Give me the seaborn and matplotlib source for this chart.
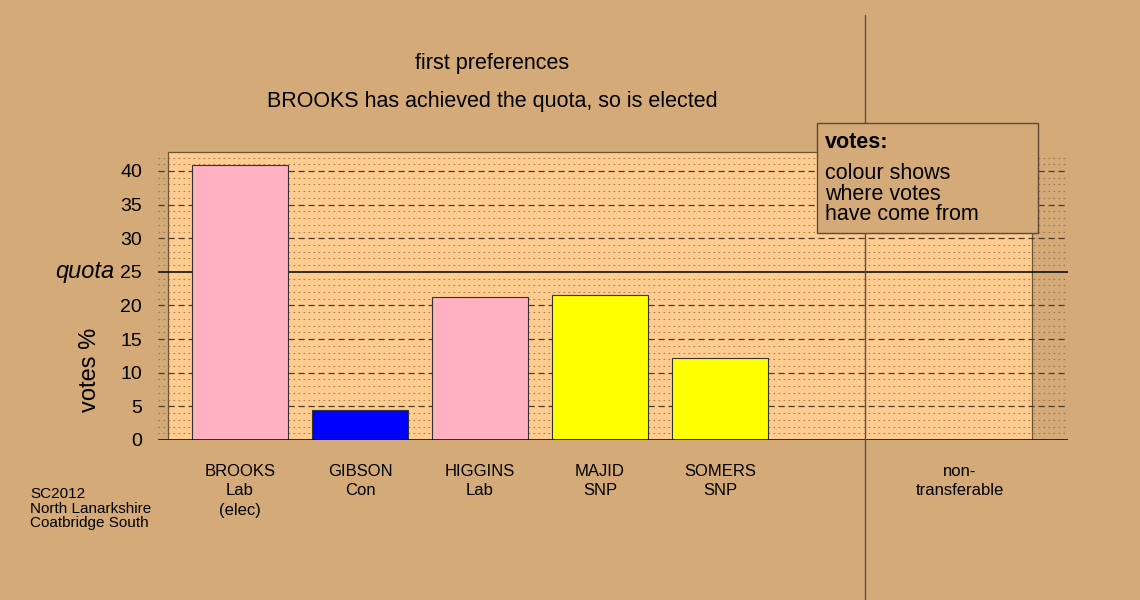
import numpy as np
import pandas as pd
import matplotlib
matplotlib.use('Agg')
import matplotlib.pyplot as plt
import seaborn as sns
from matplotlib.patches import Rectangle
from matplotlib.transforms import blended_transform_factory

# Data
candidates = ['BROOKS', 'GIBSON', 'HIGGINS', 'MAJID', 'SOMERS']
parties = ['Lab', 'Con', 'Lab', 'SNP', 'SNP']
notes = ['(elec)', '', '', '', '']
votes = [40.9, 4.5, 21.3, 21.6, 12.2]
bar_colours = ['#FFB1C1', '#0000FF', '#FFB1C1', '#FFFF00', '#FFFF00']
quota = 25
y_ticks = [0, 5, 10, 15, 20, 25, 30, 35, 40]
nontransferable_label = 'non-\ntransferable'

bg = '#D4AA78'
panel = '#FFCC90'

sns.set_style('white')
plt.rcParams['font.family'] = ['Liberation Sans', 'DejaVu Sans']
plt.rcParams['text.color'] = 'black'
plt.rcParams['xtick.color'] = 'black'
plt.rcParams['ytick.color'] = 'black'

df = pd.DataFrame({'candidate': candidates, 'votes': votes})
df['label'] = [f'{c}\n{p}' + (f'\n{n}' if n else '') for c, p, n in zip(candidates, parties, notes)]

fig = plt.figure(figsize=(11.4, 6), dpi=100, facecolor=bg)
ax = fig.add_axes([158 / 1140, 160 / 600, 910 / 1140, 289.2 / 600])
ax.patch.set_alpha(0)

sns.barplot(data=df, x='label', y='votes', hue='label',
            palette=dict(zip(df['label'], bar_colours)), legend=False,
            width=0.8, edgecolor='#333333', linewidth=0.8, saturation=1,
            zorder=3, ax=ax)

xmin, xmax = -0.683, 6.9
ymax = 43
ax.set_xlim(xmin, xmax)
ax.set_ylim(0, ymax)

# light panel behind the bars
ax.add_patch(Rectangle((-0.6, 0), 7.2, 42.8, facecolor=panel,
                       edgecolor='#6B5535', linewidth=0.9, zorder=0))

# grid lines
minor = [v for v in range(1, 43) if v % 5 != 0]
ax.hlines(minor, xmin, xmax, colors='#8A6E4E', linestyles=(0, (1.5, 3)),
          linewidth=0.8, alpha=0.8, zorder=1)
major = [v for v in y_ticks if v not in (0, quota)]
ax.hlines(major, xmin, xmax, colors='#4A3C2C', linestyles=(0, (5, 3)),
          linewidth=0.9, zorder=1)
ax.axhline(quota, color='#111111', linewidth=1.2, zorder=2)
ax.axhline(0, color='#111111', linewidth=1.2, zorder=4)

# ticks
ax.set_yticks(y_ticks)
ax.set_yticklabels([str(v) for v in y_ticks], fontsize=14)
ax.tick_params(axis='y', length=0, pad=11.5)
ax.set_xticks(list(range(len(candidates))) + [6])
ax.set_xticklabels(list(df['label']) + [nontransferable_label], fontsize=12)
for t in ax.get_xticklabels():
    t.set_linespacing(1.4)
ax.tick_params(axis='x', length=0, pad=17)
ax.set_xlabel('')
ax.set_ylabel('')
for s in ax.spines.values():
    s.set_visible(False)

trans = blended_transform_factory(fig.transFigure, ax.transData)
ax.text(114 / 1140, quota, 'quota', transform=trans, ha='right', va='center',
        fontsize=17, style='italic')

fig.text(90 / 1140, 1 - 370 / 600, 'votes %', rotation=90, ha='center',
         va='center', fontsize=17)

fig.text(492 / 1140, 1 - 64 / 600, 'first preferences', ha='center',
         va='center', fontsize=15.5)
fig.text(492 / 1140, 1 - 102 / 600, 'BROOKS has achieved the quota, so is elected',
         ha='center', va='center', fontsize=15.5)

fig.text(30 / 1140, 1 - 487 / 600, 'SC2012\nNorth Lanarkshire\nCoatbridge South',
         ha='left', va='top', fontsize=11, linespacing=1.05)

# separator before the non-transferable column
fig.add_artist(plt.Line2D([865 / 1140, 865 / 1140], [0, 1 - 15 / 600],
                          color='#555048', linewidth=1.0, transform=fig.transFigure))

# note box
fig.add_artist(Rectangle((817 / 1140, 1 - 233 / 600), 221 / 1140, 110 / 600,
                         transform=fig.transFigure, facecolor=bg,
                         edgecolor='#5A4A38', linewidth=1.0, zorder=5))
fig.text(825 / 1140, 1 - 142 / 600, 'votes:', ha='left', va='center',
         fontsize=15.5, fontweight='bold', zorder=6)
fig.text(825 / 1140, 1 - 163 / 600, 'colour shows\nwhere votes\nhave come from',
         ha='left', va='top', fontsize=15.5, linespacing=0.97, zorder=6)

fig.savefig('out.png', dpi=100, facecolor=bg)
